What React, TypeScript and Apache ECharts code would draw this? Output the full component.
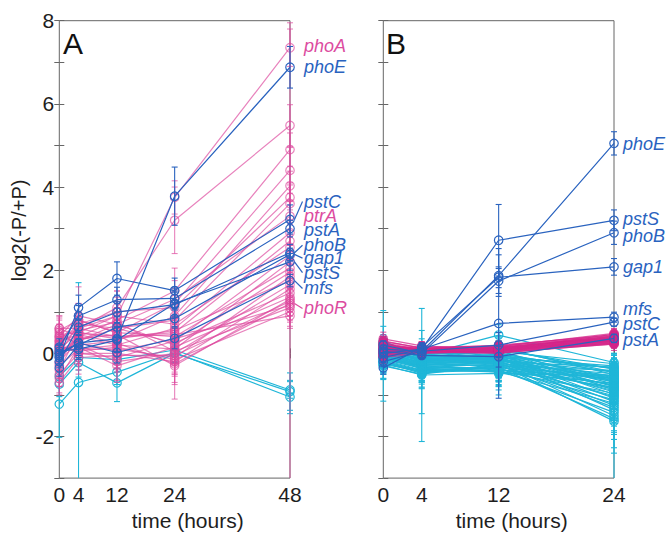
import { useEffect, useRef } from 'react';
import * as echarts from 'echarts';

// ---------- data ----------
const timesA = [0, 4, 12, 24, 48];
const timesB = [0, 4, 12, 24];
const xTicksA = [0, 4, 12, 24, 48];
const xTicksB = [0, 4, 12, 24];

// Panel A
const aPinkVals = [
  [0.10, 0.50, 0.90, 3.75, 7.35],
  [0.20, 0.60, 1.10, 3.20, 5.48],
  [0.60, 0.40, 0.80, 1.50, 4.90],
  [0.30, 0.80, 0.50, 1.20, 4.40],
  [0.50, 0.20, 0.30, 0.90, 4.03],
  [0.00, 0.70, 1.00, 1.10, 3.75],
  [-0.20, 0.30, 0.60, 0.80, 3.60],
  [0.40, 0.90, 0.70, 1.30, 3.30],
  [0.10, 0.10, 0.20, 0.60, 2.90],
  [-0.40, 0.50, 0.40, 0.50, 2.70],
  [0.35, 0.60, 0.90, 0.70, 2.55],
  [0.20, 0.00, -0.10, 0.30, 2.35],
  [-0.10, 0.40, 0.20, 0.10, 2.20],
  [0.55, 0.80, 0.50, 0.40, 2.05],
  [0.00, 0.30, 0.70, 0.20, 1.95],
  [-0.30, 0.10, 0.10, -0.10, 1.85],
  [0.45, 0.50, 0.35, 0.55, 1.75],
  [0.10, 0.20, -0.20, 0.00, 1.65],
  [-0.50, 0.00, 0.00, -0.20, 1.55],
  [0.25, 0.70, 0.60, 0.25, 1.45],
  [0.30, 0.45, 0.25, -0.25, 1.20],
  [-0.60, 0.15, -0.30, 0.15, 1.35],
  [0.05, 0.35, 0.45, -0.30, 1.30],
  [0.40, 0.25, 0.05, 0.35, 1.15],
  [-0.25, 0.55, 0.75, 0.05, 1.10],
  [0.15, 0.05, 0.15, -0.15, 1.00],
  [0.60, 0.60, 0.40, 0.45, 0.90],
  [-0.70, -0.10, -0.05, -0.05, 1.25],
];
const aPinkErrs = [
  [0.20, 0.30, 0.35, 0.40, 0.45],
  [0.25, 0.35, 0.40, 0.80, 0.50],
  [0.30, 0.25, 0.30, 0.55, 0.40],
  [0.20, 0.40, 0.30, 0.35, 0.55],
  [0.35, 0.30, 0.25, 0.30, 0.35],
  [0.15, 0.45, 0.50, 0.40, 0.30],
  [0.25, 0.30, 0.35, 0.30, 0.50],
  [0.30, 0.70, 0.40, 0.45, 0.35],
  [0.20, 0.25, 0.30, 0.25, 0.30],
  [0.30, 0.35, 0.25, 0.40, 0.45],
  [0.25, 0.40, 0.45, 0.35, 0.30],
  [0.20, 0.30, 0.35, 0.30, 5.60],
  [0.30, 0.25, 0.30, 0.35, 0.40],
  [0.35, 0.40, 0.30, 0.30, 0.25],
  [0.20, 0.30, 0.40, 0.35, 0.35],
  [0.30, 0.35, 0.25, 0.40, 0.30],
  [0.25, 0.30, 0.30, 0.30, 0.45],
  [0.20, 0.35, 0.45, 0.45, 0.30],
  [0.30, 0.40, 0.35, 0.50, 0.35],
  [0.25, 0.30, 0.40, 0.35, 0.40],
  [0.20, 0.35, 0.30, 0.85, 0.30],
  [0.35, 0.30, 0.40, 0.40, 0.35],
  [0.25, 0.40, 0.35, 0.45, 0.30],
  [0.20, 0.30, 0.30, 0.30, 0.40],
  [0.30, 0.35, 0.45, 0.35, 0.30],
  [0.25, 0.30, 0.30, 0.40, 0.35],
  [0.20, 0.35, 0.35, 0.30, 0.30],
  [0.30, 0.40, 0.30, 0.45, 0.35],
];
const aBlueVals = [
  [0.00, 0.25, 0.35, 3.78, 6.88],
  [-0.10, 1.10, 1.80, 1.51, 3.22],
  [0.15, 0.90, 1.29, 1.32, 3.00],
  [-0.20, 0.63, 0.99, 1.17, 2.42],
  [-0.35, 0.20, 0.63, 0.84, 2.38],
  [0.05, 0.10, 0.32, 1.20, 2.20],
  [-0.05, 0.25, 0.02, 0.36, 1.75],
];
const aBlueErrs = [
  [0.20, 0.30, 0.30, 0.70, 0.50],
  [0.15, 0.30, 0.40, 0.30, 0.35],
  [0.20, 0.25, 0.30, 0.25, 0.20],
  [0.15, 0.20, 0.25, 0.30, 0.20],
  [0.20, 0.30, 0.25, 0.20, 0.15],
  [0.15, 0.25, 0.30, 0.30, 0.20],
  [0.10, 0.20, 0.25, 0.25, 0.15],
];
const aCyanVals = [
  [-1.22, -0.70, -0.45, 0.02, -1.05],
  [-0.74, -0.22, -0.71, 0.00, -0.92],
  [-0.55, -0.10, -0.15, 0.08, -0.88],
];
const aCyanErrs = [
  [0.80, 2.40, 0.30, 0.25, 0.40],
  [0.30, 0.35, 0.45, 0.20, 0.45],
  [0.25, 0.30, 0.30, 0.30, 0.20],
];
const aLabelNames = ['phoA', 'phoE', 'pstC', 'ptrA', 'pstA', 'phoB', 'gap1', 'pstS', 'mfs', 'phoR'];
const aLabelGroups = ['pink', 'blue', 'blue', 'pink', 'blue', 'blue', 'blue', 'blue', 'blue', 'pink'];
const aLabelPoint = [7.35, 6.88, 3.22, 3.30, 3.00, 2.42, 2.38, 2.20, 1.75, 1.20];
const aLabelPos = [7.38, 6.88, 3.65, 3.30, 2.97, 2.60, 2.29, 1.94, 1.56, 1.08];

// Panel B
const bBlueVals = [
  [0.10, 0.05, 1.87, 5.05],
  [-0.10, 0.10, 2.72, 3.20],
  [0.20, 0.00, 1.74, 2.90],
  [-0.35, 0.15, 1.83, 2.08],
  [0.00, 0.10, 0.72, 0.87],
  [-0.20, 0.05, 0.20, 0.75],
  [0.05, -0.05, -0.08, 0.36],
];
const bBlueErrs = [
  [0.10, 0.15, 0.50, 0.28],
  [0.12, 0.10, 0.86, 0.25],
  [0.10, 0.12, 0.30, 0.28],
  [0.15, 0.10, 0.25, 0.20],
  [0.10, 0.15, 1.80, 0.12],
  [0.12, 0.10, 0.30, 0.10],
  [0.10, 0.08, 0.25, 0.10],
];
const bPinkVals = [
  [0.12, 0.05, 0.08, 0.30], [0.20, 0.10, 0.12, 0.42], [-0.05, 0.02, 0.05, 0.25],
  [0.05, 0.08, 0.15, 0.38], [0.30, 0.12, 0.10, 0.35], [0.00, 0.04, 0.02, 0.22],
  [0.15, 0.15, 0.18, 0.45], [-0.10, 0.00, 0.06, 0.28], [0.08, 0.06, 0.10, 0.33],
  [0.25, 0.09, 0.04, 0.27], [0.02, 0.11, 0.14, 0.40], [0.18, 0.03, 0.07, 0.31],
  [-0.02, 0.07, 0.12, 0.36], [0.10, 0.13, 0.16, 0.48], [0.35, 0.18, 0.09, 0.34],
  [0.04, 0.01, 0.03, 0.24], [0.22, 0.07, 0.11, 0.39], [-0.08, 0.05, 0.08, 0.29],
  [0.13, 0.10, 0.20, 0.43], [0.06, 0.04, 0.00, 0.26], [0.28, 0.14, 0.13, 0.37],
  [-0.04, 0.06, 0.09, 0.32], [0.16, 0.02, 0.05, 0.30], [0.09, 0.12, 0.17, 0.41],
  [0.01, 0.08, 0.06, 0.33], [0.24, 0.05, 0.14, 0.36], [0.07, 0.09, 0.10, 0.46],
  [-0.06, 0.03, 0.01, 0.23],
];
const bPinkErrs = [
  [0.10, 0.08, 0.12, 0.10], [0.12, 0.10, 0.09, 0.14], [0.08, 0.12, 0.10, 0.08],
  [0.15, 0.09, 0.14, 0.12], [0.10, 0.14, 0.08, 0.10], [0.09, 0.07, 0.12, 0.15],
  [0.12, 0.11, 0.10, 0.09], [0.14, 0.08, 0.15, 0.12], [0.08, 0.13, 0.09, 0.10],
  [0.11, 0.10, 0.12, 0.14], [0.10, 0.09, 0.08, 0.11], [0.13, 0.12, 0.14, 0.09],
  [0.09, 0.08, 0.10, 0.13], [0.12, 0.14, 0.11, 0.10], [0.16, 0.10, 0.09, 0.12],
  [0.08, 0.09, 0.13, 0.08], [0.11, 0.12, 0.10, 0.11], [0.10, 0.08, 0.12, 0.14],
  [0.13, 0.11, 0.09, 0.10], [0.09, 0.10, 0.14, 0.12], [0.12, 0.13, 0.10, 0.09],
  [0.10, 0.09, 0.11, 0.13], [0.14, 0.10, 0.12, 0.10], [0.08, 0.12, 0.09, 0.11],
  [0.11, 0.08, 0.13, 0.12], [0.13, 0.11, 0.10, 0.09], [0.10, 0.10, 0.12, 0.14],
  [0.09, 0.12, 0.08, 0.10],
];
const bCyanVals = [
  [0.10, -0.05, 0.44, -0.22], [0.20, -0.10, 0.05, -0.25], [-0.05, -0.20, -0.10, -0.30],
  [0.05, -0.15, -0.20, -0.33], [-0.15, -0.30, -0.05, -0.36], [0.25, 0.00, 0.10, -0.38],
  [0.00, -0.25, -0.30, -0.41], [-0.25, -0.40, -0.15, -0.44], [0.15, -0.10, 0.00, -0.46],
  [-0.10, -0.35, -0.25, -0.49], [0.08, -0.05, 0.15, -0.51], [-0.20, -0.45, -0.35, -0.53],
  [0.30, -0.12, -0.08, -0.56], [0.02, -0.22, -0.18, -0.58], [-0.08, -0.30, -0.40, -0.60],
  [0.18, -0.02, 0.02, -0.62], [-0.30, -0.50, -0.28, -0.64], [0.06, -0.18, -0.12, -0.66],
  [-0.12, -0.28, -0.22, -0.68], [0.22, -0.08, 0.06, -0.70], [-0.02, -0.38, -0.45, -0.72],
  [0.12, -0.14, -0.02, -0.74], [-0.18, -0.42, -0.32, -0.76], [0.04, -0.24, -0.16, -0.78],
  [0.16, -0.06, -0.06, -0.80], [-0.06, -0.32, -0.38, -0.82], [0.10, -0.16, -0.10, -0.84],
  [-0.22, -0.48, -0.26, -0.86], [0.26, -0.04, 0.08, -0.88], [-0.04, -0.26, -0.20, -0.90],
  [0.08, -0.20, -0.14, -0.93], [-0.14, -0.36, -0.42, -0.96], [0.14, -0.10, -0.04, -0.99],
  [-0.26, -0.44, -0.30, -1.02], [0.00, -0.28, -0.24, -1.05], [0.20, -0.06, -0.08, -1.08],
  [-0.10, -0.34, -0.36, -1.12], [0.06, -0.12, -0.12, -1.16], [-0.16, -0.40, -0.44, -1.20],
  [0.12, -0.18, -0.18, -1.25], [-0.02, -0.30, -0.28, -1.30], [0.18, -0.08, -0.10, -1.36],
  [-0.20, -0.46, -0.40, -1.42], [0.04, -0.22, -0.22, -1.50], [-0.08, -0.36, -0.34, -1.57],
  [0.10, -0.14, -0.26, -1.63], [-0.28, -0.52, -0.48, -0.55], [0.24, 0.02, 0.12, -0.45],
  [-0.12, -0.24, -0.06, -0.35], [0.02, -0.16, -0.14, -0.62],
];
const bCyanErrs = [
  [0.15, 0.20, 0.25, 0.20], [0.20, 0.15, 0.45, 0.25], [0.25, 0.30, 0.20, 0.30],
  [0.15, 0.25, 0.30, 0.20], [0.30, 0.20, 0.25, 0.35], [0.20, 0.35, 0.20, 0.25],
  [0.25, 0.20, 0.35, 0.30], [0.90, 0.30, 0.25, 0.20], [0.20, 0.25, 0.30, 0.35],
  [0.25, 0.30, 0.20, 0.25], [0.15, 0.20, 0.25, 0.30], [0.30, 1.00, 0.30, 0.25],
  [0.73, 0.25, 0.20, 0.35], [0.20, 0.30, 0.35, 0.30], [0.25, 0.20, 0.60, 0.25],
  [0.15, 0.25, 0.20, 0.40], [0.30, 0.35, 0.30, 0.30], [0.20, 0.20, 0.25, 0.35],
  [0.25, 0.30, 0.35, 0.25], [0.15, 0.25, 0.20, 0.30], [0.30, 0.20, 0.30, 0.40],
  [0.20, 0.35, 0.25, 0.30], [0.25, 0.25, 0.35, 0.35], [0.20, 0.30, 0.20, 0.45],
  [0.15, 0.20, 0.25, 0.30], [0.30, 0.25, 0.30, 0.40], [0.20, 0.30, 0.25, 0.35],
  [0.25, 0.35, 0.30, 0.50], [0.15, 0.20, 0.20, 0.30], [0.20, 0.30, 0.25, 0.45],
  [0.25, 0.25, 0.30, 0.40], [0.30, 0.30, 0.35, 0.50], [0.15, 0.20, 0.25, 0.35],
  [0.35, 0.30, 0.30, 0.55], [0.20, 0.25, 0.20, 0.45], [0.15, 0.20, 0.25, 0.60],
  [0.25, 0.35, 0.30, 0.50], [0.20, 0.25, 0.20, 0.45], [0.30, 0.30, 0.35, 0.55],
  [0.20, 0.25, 0.25, 0.70], [0.25, 0.30, 0.30, 0.60], [0.15, 0.20, 0.25, 0.50],
  [0.30, 0.35, 0.40, 0.65], [0.20, 0.25, 0.30, 0.90], [0.25, 0.30, 0.35, 0.70],
  [0.20, 0.25, 0.30, 1.50], [0.35, 1.60, 0.40, 0.30], [0.15, 0.20, 0.25, 0.25],
  [0.25, 0.25, 0.20, 0.30], [0.20, 0.30, 0.25, 0.35],
];
const bLabelNames = ['phoE', 'pstS', 'phoB', 'gap1', 'mfs', 'pstC', 'pstA'];
const bLabelPoint = [5.05, 3.20, 2.90, 2.08, 0.87, 0.75, 0.36];
const bLabelPos = [5.03, 3.23, 2.83, 2.08, 1.06, 0.70, 0.32];

const yTickLabels = ['8', '6', '4', '2', '0', '-2'];

// ---------- styles ----------
const FONT = '"Liberation Sans", Arial, Helvetica, sans-serif';
const YMIN = -3;
const YMAX = 8;
const FRAME = '#666666';
const TEXT = '#1e1e1e';
const PINK_A = 'rgba(221,72,158,0.68)';
const PINK_B = 'rgba(212,38,138,0.75)';
const PINK_LABEL = '#dc4c9f';
const BLUE = '#2a63bf';
const CYAN = '#1fb6d8';

function lineSeries(vals: number[][], times: number[], color: string, xi: number, yi: number, z: number) {
  return vals.map((v) => ({
    type: 'line',
    xAxisIndex: xi,
    yAxisIndex: yi,
    data: times.map((t, i) => [t, v[i]]),
    symbol: 'circle',
    symbolSize: 8.5,
    showSymbol: true,
    lineStyle: { color, width: 1.2 },
    itemStyle: { color: 'rgba(0,0,0,0)', borderColor: color, borderWidth: 1.2 },
    emphasis: { disabled: true },
    silent: true,
    z,
  }));
}

function errSeries(vals: number[][], errs: number[][], times: number[], color: string, xi: number, yi: number, z: number) {
  const data: number[][] = [];
  vals.forEach((v, li) => v.forEach((y, ti) => data.push([times[ti], y, errs[li][ti]])));
  return {
    type: 'custom',
    xAxisIndex: xi,
    yAxisIndex: yi,
    data,
    z,
    silent: true,
    clip: false,
    encode: { x: 0, y: 1 },
    renderItem: (params: any, api: any) => {
      const x = api.value(0);
      const y = api.value(1);
      const e = api.value(2);
      const hiRaw = y + e;
      const loRaw = y - e;
      const hi = Math.min(hiRaw, YMAX);
      const lo = Math.max(loRaw, YMIN);
      const top = api.coord([x, hi]);
      const bot = api.coord([x, lo]);
      const style = { stroke: color, lineWidth: 1.1 };
      const children: any[] = [
        { type: 'line', shape: { x1: top[0], y1: top[1], x2: bot[0], y2: bot[1] }, style },
      ];
      if (hiRaw <= YMAX) children.push({ type: 'line', shape: { x1: top[0] - 3, y1: top[1], x2: top[0] + 3, y2: top[1] }, style });
      if (loRaw >= YMIN) children.push({ type: 'line', shape: { x1: bot[0] - 3, y1: bot[1], x2: bot[0] + 3, y2: bot[1] }, style });
      return { type: 'group', children };
    },
  };
}

function labelSeries(x: number, names: string[], colors: string[], points: number[], pos: number[], xi: number, yi: number, dx: number, leader: boolean) {
  return {
    type: 'custom',
    xAxisIndex: xi,
    yAxisIndex: yi,
    data: points.map((p, i) => [x, p, pos[i]]),
    z: 20,
    silent: true,
    clip: false,
    encode: { x: 0, y: 1 },
    renderItem: (params: any, api: any) => {
      const i = params.dataIndex;
      const p = api.coord([api.value(0), api.value(1)]);
      const l = api.coord([api.value(0), api.value(2)]);
      const children: any[] = [];
      if (leader && Math.abs(l[1] - p[1]) > 1.5) {
        children.push({
          type: 'polyline',
          shape: { points: [[p[0] + 4.5, p[1]], [p[0] + dx - 1.5, l[1]]] },
          style: { stroke: colors[i], lineWidth: 1.2, fill: 'none' },
        });
      }
      children.push({
        type: 'text',
        x: p[0] + dx,
        y: l[1],
        style: {
          text: names[i],
          fill: colors[i],
          font: `italic 18px ${FONT}`,
          lineHeight: 14,
          align: 'left',
          verticalAlign: 'middle',
        },
      });
      return { type: 'group', children };
    },
  };
}

function xAxes(grid: number, max: number, ticks: number[]) {
  const base = {
    gridIndex: grid,
    type: 'value',
    min: 0,
    max,
    axisLine: { show: false },
    splitLine: { show: false },
  };
  return [
    {
      ...base,
      position: 'bottom',
      axisTick: { inside: true, length: 5, customValues: ticks, lineStyle: { color: FRAME } },
      axisLabel: { customValues: ticks, fontSize: 21, fontFamily: FONT, color: TEXT, margin: 6 },
      name: 'time (hours)',
      nameLocation: 'middle',
      nameGap: 29,
      nameTextStyle: { fontSize: 21, fontFamily: FONT, color: TEXT, padding: [0, 0, 0, 26] },
    },
    {
      ...base,
      position: 'top',
      axisTick: { inside: true, length: 5, customValues: ticks, lineStyle: { color: FRAME } },
      axisLabel: { show: false, customValues: ticks },
    },
  ];
}

function yAxes(grid: number, labels: boolean) {
  const base = {
    gridIndex: grid,
    type: 'value',
    min: YMIN,
    max: YMAX,
    interval: 1,
    axisLine: { show: false },
    splitLine: { show: false },
    axisTick: { inside: true, length: 5, lineStyle: { color: FRAME } },
  };
  const left: any = {
    ...base,
    position: 'left',
    axisLabel: {
      show: labels,
      showMaxLabel: true,
      showMinLabel: true,
      fontSize: 21,
      fontFamily: FONT,
      color: TEXT,
      margin: 5,
      formatter: (v: number) => (yTickLabels.includes(String(v)) ? String(v) : ''),
    },
  };
  if (labels) {
    left.name = 'log2(-P/+P)';
    left.nameLocation = 'middle';
    left.nameGap = 30;
    left.nameTextStyle = { fontSize: 20, fontFamily: FONT, color: TEXT, padding: [0, 0, 0, 38] };
  }
  return [left, { ...base, position: 'right', axisLabel: { show: false } }];
}

export default function App() {
  const ref = useRef<HTMLDivElement>(null);
  useEffect(() => {
    if (!ref.current) return;
    const chart = echarts.init(ref.current, null, { renderer: 'svg' });
    const gridCommon = { top: 20.7, width: 230.7, height: 462.3, show: true, borderColor: FRAME, borderWidth: 1, backgroundColor: 'transparent' };
    const aLabelColors = aLabelGroups.map((g) => (g === 'pink' ? PINK_LABEL : BLUE));
    const bLabelColors = bLabelNames.map(() => BLUE);
    const series: any[] = [
      errSeries(aCyanVals, aCyanErrs, timesA, CYAN, 0, 0, 1),
      ...lineSeries(aCyanVals, timesA, CYAN, 0, 0, 2),
      errSeries(aPinkVals, aPinkErrs, timesA, PINK_A, 0, 0, 3),
      ...lineSeries(aPinkVals, timesA, PINK_A, 0, 0, 4),
      errSeries(aBlueVals, aBlueErrs, timesA, BLUE, 0, 0, 5),
      ...lineSeries(aBlueVals, timesA, BLUE, 0, 0, 6),
      labelSeries(48, aLabelNames, aLabelColors, aLabelPoint, aLabelPos, 0, 0, 14, true),
      errSeries(bCyanVals, bCyanErrs, timesB, CYAN, 2, 2, 1),
      ...lineSeries(bCyanVals, timesB, CYAN, 2, 2, 2),
      errSeries(bPinkVals, bPinkErrs, timesB, PINK_B, 2, 2, 3),
      ...lineSeries(bPinkVals, timesB, PINK_B, 2, 2, 4),
      errSeries(bBlueVals, bBlueErrs, timesB, BLUE, 2, 2, 5),
      ...lineSeries(bBlueVals, timesB, BLUE, 2, 2, 6),
      labelSeries(24, bLabelNames, bLabelColors, bLabelPoint, bLabelPos, 2, 2, 9, false),
    ];
    chart.setOption({
      animation: false,
      backgroundColor: '#ffffff',
      grid: [
        { ...gridCommon, left: 59.3 },
        { ...gridCommon, left: 383.3 },
      ],
      xAxis: [...xAxes(0, 48, xTicksA), ...xAxes(1, 24, xTicksB)],
      yAxis: [...yAxes(0, true), ...yAxes(1, false)],
      graphic: [
        { type: 'text', x: 63, y: 43, z: 30, style: { text: 'A', font: `30px ${FONT}`, fill: '#111', verticalAlign: 'middle' } },
        { type: 'text', x: 386, y: 43, z: 30, style: { text: 'B', font: `30px ${FONT}`, fill: '#111', verticalAlign: 'middle' } },
      ],
      series,
    });
    return () => chart.dispose();
  }, []);
  return <div ref={ref} style={{ position: 'fixed', left: 0, top: 0, width: 668, height: 536 }} />;
}
